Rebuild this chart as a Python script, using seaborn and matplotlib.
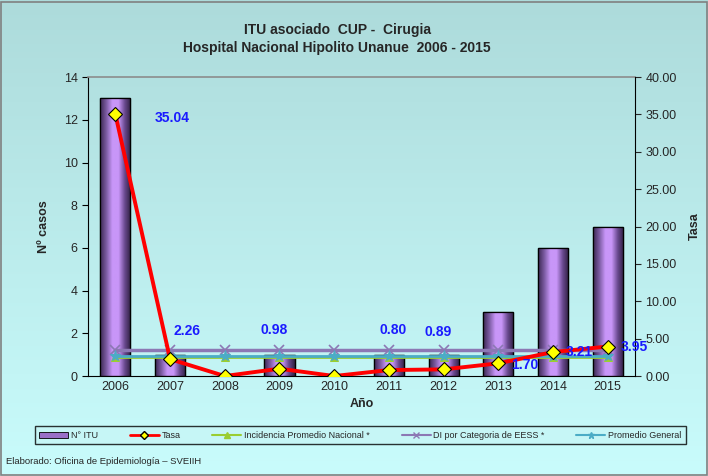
import numpy as np
import matplotlib
matplotlib.use("Agg")
import matplotlib.pyplot as plt
import seaborn as sns
from matplotlib.colors import LinearSegmentedColormap
from matplotlib.lines import Line2D
from matplotlib.patches import Patch

years = ["2006", "2007", "2008", "2009", "2010", "2011", "2012", "2013", "2014", "2015"]
n_itu = [13, 1, 0, 1, 0, 1, 1, 3, 6, 7]
tasa = [35.04, 2.26, 0.0, 0.98, 0.0, 0.80, 0.89, 1.70, 3.21, 3.95]
inc_nacional = [2.5] * 10
di_categoria = [3.45] * 10
prom_general = [2.7] * 10
tasa_labels = ["35.04", "2.26", "", "0.98", "", "0.80", "0.89", "1.70", "3.21", "3.95"]

sns.set_style("white")
plt.rcParams["font.family"] = ["Liberation Sans", "DejaVu Sans"]

fig = plt.figure(figsize=(7.08, 4.76), dpi=100)

# background gradient of the whole figure
bg = fig.add_axes([0, 0, 1, 1], zorder=-10)
grad = np.linspace(0, 1, 256).reshape(-1, 1)
bg_cmap = LinearSegmentedColormap.from_list("bg", ["#addbdb", "#c9fcfc"])
bg.imshow(grad, aspect="auto", cmap=bg_cmap, extent=[0, 1, 0, 1])
bg.set_axis_off()
bg.add_patch(plt.Rectangle((0.002, 0.002), 0.996, 0.994, fill=False,
                           edgecolor="#808080", lw=1.2, transform=bg.transAxes))

ax = fig.add_axes([0.1243, 0.21, 0.7727, 0.628])
ax.patch.set_alpha(0)
sns.barplot(x=years, y=n_itu, ax=ax, color="#c896f8", edgecolor="black",
            linewidth=0.9, width=0.55, zorder=2)

# shaded bars
bar_cmap = LinearSegmentedColormap.from_list(
    "bar", ["#3a2650", "#7a5aa0", "#c896f8", "#c896f8", "#6a4a90", "#2e1e40"])
hgrad = np.linspace(0, 1, 256).reshape(1, -1)
for p in ax.patches:
    if p.get_height() <= 0:
        continue
    x0, w, h = p.get_x(), p.get_width(), p.get_height()
    im = ax.imshow(hgrad, aspect="auto", cmap=bar_cmap,
                   extent=[x0, x0 + w, 0, h], zorder=2.5)
    im.set_clip_path(p)
    ax.add_patch(plt.Rectangle((x0, 0), w, h, fill=False, edgecolor="black",
                               lw=0.9, zorder=3))

ax.set_xlim(-0.5, 9.5)
ax.set_ylim(0, 14)
ax.set_yticks(range(0, 15, 2))
ax.set_ylabel("Nº casos", fontsize=9, fontweight="bold", labelpad=10)
ax.set_xlabel("Año", fontsize=9, fontweight="bold")
ax.tick_params(axis="both", labelsize=9, length=4, direction="out", color="black")
ax.set_xticks(np.arange(-0.5, 10, 1), minor=True)
ax.tick_params(axis="x", which="major", length=0)
ax.tick_params(axis="x", which="minor", length=4, direction="in")
ax.tick_params(left=True, bottom=True)
for s in ["left", "bottom"]:
    ax.spines[s].set_color("black")
ax.spines["top"].set_color("#8c8c8c")
ax.spines["top"].set_linewidth(1.2)
ax.spines["right"].set_visible(False)

ax2 = ax.twinx()
pos = np.arange(len(years))
sns.lineplot(x=pos, y=inc_nacional, ax=ax2, color="#9acd32", lw=2,
             marker="^", markersize=6, markeredgecolor="#9acd32", zorder=4)
sns.lineplot(x=pos, y=di_categoria, ax=ax2, color="#8c78b4", lw=2.5,
             marker="x", markersize=7, markeredgecolor="#8c78b4", mew=1.2, zorder=4)
sns.lineplot(x=pos, y=prom_general, ax=ax2, color="#4bacc6", lw=2,
             marker="*", markersize=8, markeredgecolor="#4bacc6", zorder=4)
sns.lineplot(x=pos, y=tasa, ax=ax2, color="#ff0000", lw=2.8, marker="D",
             markersize=7, markerfacecolor="#ffff00", markeredgecolor="black",
             mew=0.8, zorder=5)
ax2.set_xlim(-0.5, 9.5)
ax2.set_ylim(0, 40)
ax2.set_yticks(range(0, 41, 5))
ax2.set_yticklabels([f"{v:.2f}" for v in range(0, 41, 5)])
ax2.set_ylabel("Tasa", fontsize=9, fontweight="bold", labelpad=9)
ax2.tick_params(axis="y", labelsize=9, length=4, right=True)
for s in ["left", "bottom", "top"]:
    ax2.spines[s].set_visible(False)
ax2.spines["right"].set_color("black")

offsets = [(41, -3), (12, 20), (0, 0), (-4, 28), (0, 0), (3, 29), (-4, 27),
           (19, -1), (19, 0), (19, 0)]
for i, (lab, off) in enumerate(zip(tasa_labels, offsets)):
    if not lab:
        continue
    ax2.annotate(lab, (pos[i], tasa[i]), xytext=off, textcoords="offset points",
                 ha="center", va="center", fontsize=10, fontweight="bold",
                 color="#1a1aff", zorder=6)

fig.text(0.476, 0.938, "ITU asociado  CUP -  Cirugia", ha="center", va="center",
         fontsize=10, fontweight="bold")
fig.text(0.476, 0.899, "Hospital Nacional Hipolito Unanue  2006 - 2015",
         ha="center", va="center", fontsize=10, fontweight="bold")

handles = [
    Patch(facecolor="#9a70c8", edgecolor="black", lw=0.6),
    Line2D([], [], color="#ff0000", lw=2, marker="D", markersize=4,
           markerfacecolor="#ffff00", markeredgecolor="black"),
    Line2D([], [], color="#9acd32", lw=1.5, marker="^", markersize=4),
    Line2D([], [], color="#8c78b4", lw=1.5, marker="x", markersize=4),
    Line2D([], [], color="#4bacc6", lw=1.5, marker="*", markersize=5),
]
labels = ["N° ITU", "Tasa", "Incidencia Promedio Nacional *",
          "DI por Categoria de EESS *", "Promedio General"]
leg = fig.legend(handles, labels, loc="lower left", ncol=5, mode="expand",
                 bbox_to_anchor=(0.043, 0.057, 0.932, 0.036), fontsize=6.5,
                 frameon=True, fancybox=False, handlelength=3.2,
                 handletextpad=0.3, borderpad=0.5, columnspacing=1.0)
leg.get_frame().set_edgecolor("black")
leg.get_frame().set_linewidth(1.0)
leg.get_frame().set_facecolor("#c6f6f6")

fig.text(0.008, 0.025, "Elaborado: Oficina de Epidemiología – SVEIIH", fontsize=6.8)

fig.savefig("out.png", dpi=100)
